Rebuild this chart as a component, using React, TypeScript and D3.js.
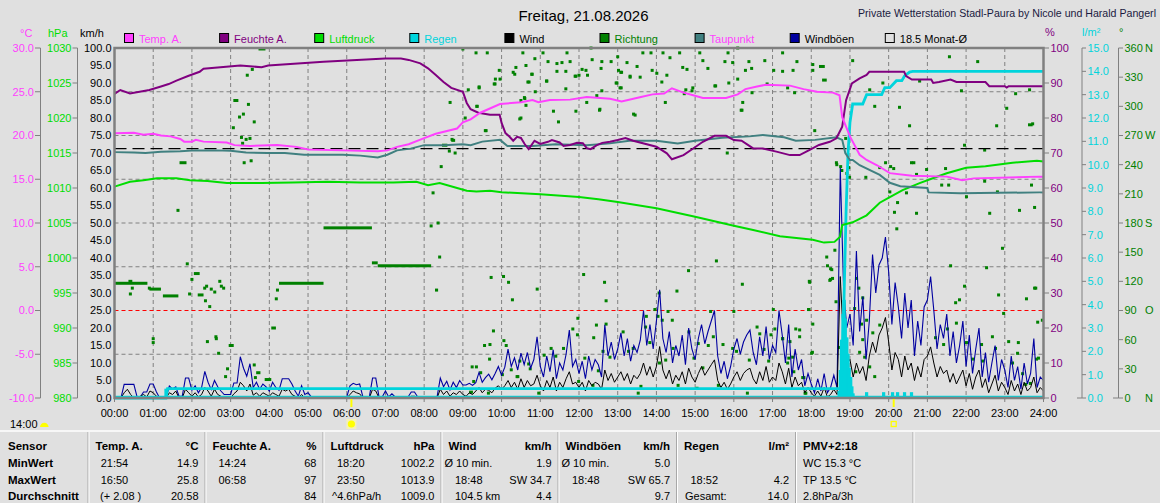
import React from 'react';
import * as d3 from 'd3';

const W = 1160, H = 503;
const PL = 114.5, PR = 1043.5, PT = 48, PB = 398;
const FONT = '"Liberation Sans", Arial, sans-serif';

// ---------- colours ----------
const C_TEMP = '#ff40ff', C_HUM = '#800080', C_PRESS = '#00dd00', C_RAIN = '#00d4dc';
const C_WIND = '#000000', C_DIR = '#008000', C_DEW = '#408080', C_GUST = '#0000a0';

// ---------- data ----------
const tempHours = [0, 0.5, 0.75, 1.0, 1.2, 1.45, 1.7, 1.8, 2.0, 2.1, 2.3, 2.9, 3.1, 3.5, 4.2, 4.7, 5.0, 5.9, 6.8, 7.05, 7.3, 7.6, 8.0, 8.3, 8.85, 9.0, 9.2, 9.45, 9.96, 10.5, 10.8, 10.95, 11.25, 11.77, 12.2, 12.8, 13.1, 13.6, 13.9, 14.2, 14.4, 14.7, 14.95, 15.2, 15.8, 16.1, 16.3, 16.6, 16.83, 17.45, 17.8, 18.15, 18.56, 18.73, 18.8, 19.0, 19.25, 19.43, 19.7, 20.03, 20.6, 21.5, 21.9, 22.2, 23.9, 24];
const tempValues = [20.25, 20.3, 20.1, 20.2, 20.0, 19.9, 19.6, 19.3, 19.3, 19.5, 19.3, 19.2, 18.9, 18.8, 18.9, 18.7, 18.4, 18.3, 18.2, 18.3, 18.7, 19.0, 19.7, 20.2, 20.8, 21.5, 21.85, 22.6, 23.6, 23.8, 24.05, 23.8, 24.05, 24.1, 24.4, 24.2, 23.9, 24.4, 24.7, 24.8, 25.4, 24.9, 24.6, 24.3, 24.3, 24.7, 25.3, 25.6, 25.8, 25.7, 25.3, 25.0, 24.9, 24.6, 22.1, 19.9, 17.8, 17.2, 16.6, 15.7, 15.4, 15.3, 14.9, 15.1, 15.3, 15.3];

const humHours = [0, 0.15, 0.4, 0.9, 1.2, 1.4, 1.6, 1.9, 2.2, 2.3, 3.25, 3.8, 3.97, 5.4, 7.0, 7.4, 7.6, 7.9, 8.1, 8.3, 8.5, 8.7, 9.0, 9.1, 9.2, 9.4, 9.7, 9.95, 10.0, 10.1, 10.2, 10.3, 10.4, 10.5, 10.6, 10.7, 10.85, 11.0, 11.2, 11.3, 11.5, 11.6, 11.77, 11.95, 12.1, 12.2, 12.3, 12.45, 12.6, 12.8, 13.0, 13.2, 13.4, 14.0, 14.27, 14.4, 14.7, 14.95, 15.2, 15.5, 15.8, 16.0, 16.2, 16.5, 16.75, 17.1, 17.45, 17.7, 17.96, 18.2, 18.48, 18.65, 18.8, 18.9, 19.05, 19.25, 19.43, 19.5, 20.4, 20.45, 20.6, 21.1, 21.15, 21.3, 21.6, 21.75, 22.5, 22.6, 23.0, 23.05, 23.1, 24];
const humValues = [86.9, 88, 87, 88, 89, 89.7, 90.7, 92, 93.2, 94.1, 95, 94.5, 95, 96.1, 97, 97, 96.6, 95.6, 94.2, 92.3, 90.3, 88.6, 87.5, 84.3, 82.5, 81.5, 80.9, 80.9, 78.6, 75.7, 74.7, 73.5, 74.6, 74.3, 72.5, 71.1, 73.5, 72.6, 73.2, 73.7, 73.0, 72.0, 72.3, 72.9, 72.8, 71.4, 71.1, 72.2, 72.9, 73.2, 73.7, 74.3, 73.5, 71.8, 69.9, 68.2, 69.4, 71.3, 73.2, 74.9, 74.9, 73.7, 73.5, 71.3, 71.3, 70.4, 69.4, 69.4, 70.9, 72.3, 73.2, 74.2, 77.5, 85.1, 89.9, 91.3, 92.3, 93.2, 93.2, 92, 91, 91, 90, 90.3, 91, 90.3, 90.3, 89.1, 89.1, 88.7, 89.1, 89.1];

const pressHours = [0, 0.4, 0.75, 1.1, 1.6, 1.95, 2.4, 2.9, 3.8, 4.6, 5.5, 6.35, 7.2, 7.8, 8.1, 8.4, 8.85, 9.1, 9.35, 9.7, 10.0, 11.0, 12.0, 12.5, 13.0, 14.0, 15.0, 16.0, 16.5, 17.19, 18.04, 18.33, 18.6, 18.74, 18.8, 19.07, 19.43, 19.77, 20.03, 20.36, 20.8, 21.14, 21.5, 22.0, 22.5, 23.2, 23.83, 24];
const pressValues = [1010.2, 1010.9, 1011.1, 1011.4, 1011.4, 1011.1, 1011.0, 1010.7, 1010.7, 1010.8, 1010.9, 1010.8, 1010.8, 1010.9, 1010.4, 1010.7, 1010.0, 1009.6, 1009.5, 1009.6, 1009.4, 1009.1, 1008.7, 1008.4, 1008.0, 1007.1, 1005.9, 1004.6, 1004.0, 1003.1, 1002.6, 1002.2, 1002.3, 1003.0, 1004.7, 1005.1, 1006.1, 1007.9, 1008.7, 1009.7, 1010.7, 1011.4, 1012.1, 1012.9, 1013.1, 1013.6, 1013.9, 1013.8];

const dewHours = [0, 0.5, 0.8, 1.2, 1.7, 2.1, 2.6, 3.0, 3.4, 3.95, 4.4, 4.9, 5.5, 5.9, 6.35, 6.8, 7.05, 7.3, 7.65, 8.0, 8.5, 9.0, 9.2, 9.5, 9.96, 10.15, 10.8, 11.4, 12.2, 12.8, 13.3, 14.0, 14.55, 15.0, 15.7, 16.4, 16.75, 17.3, 17.6, 18.1, 18.65, 18.8, 18.88, 19.0, 19.07, 19.25, 19.77, 20.03, 20.3, 21.0, 21.03, 21.85, 23.9, 24];
const dewValues = [18.1, 18.05, 18.0, 18.15, 18.2, 18.3, 18.3, 18.25, 18.05, 18.0, 18.0, 17.8, 17.8, 17.8, 17.7, 17.5, 17.8, 18.3, 18.5, 18.9, 18.9, 19.0, 18.9, 19.3, 19.5, 18.8, 18.8, 19.0, 18.9, 19.1, 19.4, 19.4, 19.1, 19.4, 19.75, 19.9, 20.06, 19.8, 19.4, 19.5, 19.8, 19.5, 18.0, 17.2, 17.2, 16.6, 15.5, 14.6, 14.2, 14.0, 13.5, 13.4, 13.5, 13.5];

// 5-minute samples, 00:00 .. 24:00 (one row per hour)
const gustValues = [
  0, 0, 0, 3.9, 3.9, 3.9, 3.9, 0.3, 0.3, 1.7, 1.7, 4,
  4, 1.7, 0, 0, 0, 3.4, 2.6, 3.2, 0.5, 0.5, 5.7, 5.7,
  2.2, 3.5, 1.5, 3, 7.6, 4.5, 2.4, 5, 3.2, 2, 1, 1,
  1, 4.3, 4.3, 11.8, 8.5, 6.2, 9.8, 3, 4.5, 2.5, 4, 3.2,
  2, 4.5, 3, 2.2, 5.5, 5.5, 5.5, 4, 2, 0.5, 3.5, 1,
  1.5, 0.3, 0.3, 0.3, 0.3, 0.3, 0.3, 0.3, 0.3, 0.3, 0.3, 0.3,
  0.3, 3.5, 4.2, 3.8, 4, 0.3, 0.3, 0.3, 5.7, 5.7, 0.3, 0.3,
  2, 0.3, 1.2, 0.3, 0.3, 0.3, 0.3, 0.3, 1.7, 1.7, 0.3, 0.3,
  0.3, 0.3, 0.3, 0.3, 0.3, 5.7, 3.2, 4.8, 2.3, 4.5, 3, 5,
  3.7, 3.7, 4.2, 3.6, 4.4, 7.3, 4.5, 5.8, 6.8, 5.2, 7, 9,
  6.5, 8.8, 14, 9, 11.5, 8, 12.8, 9.5, 13, 8.5, 11, 17.5,
  9, 6, 12, 7.5, 13.8, 5.5, 10, 8, 12.5, 19.4, 9, 11,
  7, 10.5, 5.5, 12, 8, 11, 9.5, 6, 20.9, 12, 16, 11,
  14, 18.6, 12, 17, 10.5, 15, 13, 16.5, 25, 15, 21, 14,
  22, 30.9, 17, 13, 19, 10, 15, 12, 18, 9.5, 20, 14,
  11, 17, 21, 15.5, 19, 22, 25, 12, 7, 10.5, 5.5, 9,
  14, 17, 12.5, 16, 18, 19.4, 13, 9.5, 17.5, 12, 20.4, 11,
  15, 13, 25, 18, 10, 21, 6, 14, 8, 11, 3.5, 7,
  4, 1.5, 5.5, 2, 7, 1.5, 3, 6.5, 3, 65.7, 32, 20,
  24, 15, 42, 19, 29, 11, 22, 41, 30, 38, 40, 46,
  36, 21, 33, 26, 17, 30, 20, 28, 12, 22, 15, 26,
  28, 34.7, 25, 14, 21, 17, 24, 12, 19, 10, 15, 22,
  9, 18, 7, 14, 20, 6, 13, 4.5, 10, 15, 5, 11,
  8, 3, 12, 5, 9, 2.5, 10, 4, 7, 17, 3, 6,
  5,
];
const windValues = [
  0, 0, 0, 1.5, 2.5, 1, 0, 0, 0.5, 1, 0.3, 2,
  1.5, 0.5, 0, 0, 0, 1.5, 1, 2, 0, 0, 2.5, 1.5,
  0.5, 1.5, 0.3, 1, 3, 2, 0.5, 2.5, 1, 0.5, 0, 0.3,
  0, 1.2, 2, 4.5, 3.5, 2, 4, 0.8, 1.5, 0.5, 1.5, 1,
  0.5, 1.5, 1, 0.5, 2.5, 2, 2.5, 1, 0.5, 0, 1, 0,
  0, 0, 0, 0, 0, 0, 0, 0, 0, 0, 0, 0,
  0, 1, 2, 1.5, 1.2, 0, 0, 0, 2.5, 2, 0, 0,
  0.5, 0, 0.3, 0, 0, 0, 0, 0, 0.5, 0.5, 0, 0,
  0, 0, 0, 0, 0, 2.5, 1, 2, 0.5, 1.5, 1, 2,
  1, 0.5, 1.5, 1, 2, 3, 1.5, 2.5, 2.2, 1.5, 2.8, 3.5,
  2.5, 3.5, 5, 3, 4.5, 2.5, 5.5, 3, 5, 3.5, 4, 6.5,
  3.5, 2, 5, 3, 6, 2, 4.5, 3, 5.5, 7.5, 4, 4.5,
  3, 4.5, 2, 5, 3.5, 4.5, 4, 2.5, 8, 5, 7, 4.5,
  6, 7.5, 5, 7, 4, 6.5, 5.5, 7, 10, 6.5, 9, 6,
  9, 14.7, 8, 5.5, 8, 4, 6.5, 5, 7.5, 4, 8.5, 6,
  4.5, 7, 9, 6.5, 8, 9.5, 10.9, 5, 3, 4.5, 2.5, 4,
  6, 7.5, 5, 7, 8, 8.5, 5.5, 4, 7.5, 5, 9, 4.5,
  6, 5, 10, 7.5, 4, 8.5, 3, 6, 3.5, 4.5, 1.5, 3,
  1.5, 0.5, 2, 0.5, 3, 0.3, 1, 2.5, 1, 34.7, 16, 10,
  11, 6, 10, 7, 9, 5, 12, 16, 13, 18, 20, 23,
  16, 8, 13, 11, 6, 12, 8, 10, 5, 9, 6, 11,
  12, 14.6, 10, 6, 9, 7, 8, 4.5, 7, 4, 6, 8,
  3.5, 7, 2.5, 6, 8, 3, 5.5, 1.5, 4, 6.5, 2, 4.5,
  3, 1, 5, 2, 4, 1, 4.5, 2, 3, 6, 1.5, 3,
  2,
];

const rainSumHours = [0, 1.33, 1.37, 18.75, 18.8, 18.85, 18.9, 18.95, 19.0, 19.07, 19.33, 19.43, 19.82, 19.9, 20.03, 20.2, 20.34, 20.41, 20.54, 20.62, 24];
const rainSumValues = [0, 0, 0.4, 0.4, 1.5, 4.5, 8, 10.5, 11.8, 12.6, 12.6, 13.0, 13.0, 13.3, 13.3, 13.6, 13.6, 13.8, 13.97, 14.0, 14.0];

const rainRateHours = [1.33, 18.72, 18.75, 18.78, 18.82, 18.85, 18.88, 18.92, 18.95, 18.98, 19.02, 19.05, 19.08, 19.43, 19.87, 20.1, 20.23, 20.41, 20.59];
const rainRateValues = [0.4, 0.3, 1.2, 2.5, 3.6, 4.2, 3.4, 2.6, 1.9, 1.3, 0.9, 0.5, 0.2, 0.25, 0.25, 0.25, 0.25, 0.25, 0.25];

// wind direction: single readings [hour, degrees]
const dirPoints: [number, number][] = [
  [1.64, 193], [1.88, 138], [2.0, 122], [1.94, 107], [2.33, 113], [2.38, 115], [2.5, 112], [2.59, 109], [2.72, 120], [2.76, 115], [2.82, 113], [2.35, 100], [2.46, 94],
  [1.0, 61], [1.0, 57], [0.41, 107], [0.46, 113], [0.9, 113], [2.4, 58], [2.62, 63], [2.63, 61], [2.69, 46], [2.92, 30], [2.87, 22], [3.61, 34], [3.64, 21],
  [4.18, 102], [4.21, 111], [8.18, 177], [8.36, 180], [8.4, 145],
  [3.56, 338], [3.43, 332], [3.46, 302], [3.33, 292], [3.23, 289], [3.61, 284], [3.07, 278],
  [3.28, 268], [3.4, 266], [3.5, 267], [3.31, 262], [3.35, 242], [3.53, 244], [8.72, 266], [8.65, 254], [8.8, 252], [8.44, 238], [8.23, 211], [9.6, 275],
  [9.73, 124], [10.05, 125], [10.18, 119], [10.28, 101], [9.79, 69], [9.56, 54], [9.7, 55], [9.69, 40], [10.06, 59], [10.12, 54], [9.24, 32], [9.35, 32],
  [9.28, 17], [9.46, 26], [9.66, 5], [10.02, 24], [10.25, 29], [10.42, 22], [10.92, 112], [10.47, 38], [10.74, 30], [10.7, 35], [10.96, 5], [10.4, 22],
  [11.1, 44], [11.28, 51], [11.4, 43], [11.6, 51], [11.84, 71], [11.97, 82], [12.12, 127], [12.66, 119], [12.7, 100], [11.96, 65], [11.99, 17], [12.38, 62],
  [12.45, 75], [12.7, 76], [12.62, 48], [12.8, 42], [12.15, 41], [12.5, 28], [12.36, 13], [13.14, 68], [13.28, 48], [13.4, 51], [13.6, 12], [13.53, 5],
  [13.74, 84], [13.72, 73], [13.83, 57], [13.96, 91], [14.04, 84], [14.07, 108], [14.15, 80], [14.3, 89], [14.41, 80], [14.53, 110], [14.43, 51], [14.08, 36],
  [14.24, 39], [14.56, 13], [14.83, 131], [14.84, 68], [14.97, 41], [15.05, 10], [15.08, 56], [15.2, 31], [15.34, 54], [15.4, 89], [15.47, 63], [15.55, 141],
  [15.6, 13], [15.72, 55], [15.97, 51], [16.0, 89], [16.07, 48], [16.22, 117], [16.4, 39], [16.35, 5], [16.6, 73], [16.67, 66], [16.78, 50], [16.9, 38],
  [16.96, 65], [17.02, 91], [17.06, 71], [17.26, 61], [17.45, 58], [17.52, 42], [17.7, 70], [17.78, 21], [17.84, 5], [17.95, 120], [18.03, 47], [17.93, 91],
  [18.42, 136], [18.5, 122], [18.53, 132], [18.64, 99], [18.72, 52],
  [9.0, 359], [9.34, 355], [9.63, 355], [9.94, 337], [9.96, 328], [9.83, 323], [9.42, 319], [9.14, 317], [8.67, 304], [9.06, 288], [9.37, 300], [10.55, 355],
  [10.86, 349], [10.37, 340], [10.3, 335], [10.63, 342], [10.79, 333], [10.71, 325], [10.6, 308], [10.5, 288], [11.07, 355], [11.2, 346], [11.43, 344], [11.56, 345],
  [11.77, 346], [11.69, 355], [11.43, 336], [11.66, 336], [11.92, 331], [12.08, 338], [11.17, 326], [12.34, 348], [12.59, 346], [12.31, 360], [12.57, 339], [12.83, 346],
  [13.0, 351], [13.24, 345], [13.5, 341], [13.08, 335], [13.32, 330], [12.98, 324], [13.06, 319], [12.59, 316], [12.46, 311], [12.54, 297], [13.45, 291], [13.65, 355],
  [13.86, 355], [14.17, 355], [14.35, 350], [14.6, 355], [14.68, 340], [14.79, 338], [14.27, 332], [14.01, 334], [14.14, 325], [14.76, 317], [14.94, 319], [15.12, 355],
  [15.2, 347], [15.33, 339], [15.51, 321], [15.85, 355], [15.77, 346], [15.97, 345], [16.1, 360], [16.39, 346], [16.46, 339], [16.1, 328], [16.23, 304], [16.21, 296],
  [16.8, 347], [17.26, 355], [17.26, 336], [17.39, 319], [17.63, 346], [17.57, 314],
  [9.42, 320], [9.81, 323], [9.84, 328], [10.34, 333], [10.78, 333], [10.68, 325], [11.16, 326], [10.5, 306], [10.59, 309], [10.63, 301], [10.87, 315], [11.66, 318],
  [11.9, 331], [12.0, 332], [12.18, 337], [12.22, 332], [12.2, 304], [11.92, 295], [12.53, 296], [11.34, 295], [11.47, 284], [10.47, 287], [9.58, 275], [9.36, 300],
  [12.96, 324], [13.09, 319], [13.02, 337], [13.1, 335], [13.32, 331], [13.58, 330], [13.89, 337], [13.41, 292], [14.23, 304], [14.72, 313], [14.92, 316], [15.53, 321],
  [15.87, 324], [16.19, 296], [16.3, 337], [16.47, 314], [16.86, 323], [17.03, 337], [17.53, 337], [18.04, 337], [18.09, 275], [15.83, 252], [18.65, 242], [18.76, 238], [18.89, 267],
  [18.66, 240], [18.79, 234], [18.92, 231], [18.99, 227], [18.97, 237], [19.41, 227], [19.77, 237], [19.92, 242], [20.05, 238], [20.13, 236], [20.59, 242], [20.65, 242],
  [20.72, 230], [20.98, 235], [21.47, 236], [21.37, 219], [21.55, 219], [22.01, 207], [22.48, 223], [22.61, 190], [22.81, 212], [23.38, 193], [23.69, 219], [23.77, 196],
  [20.23, 201], [20.15, 191], [20.72, 190], [20.21, 174], [20.46, 211], [20.03, 212], [18.61, 152], [18.4, 145], [18.5, 133], [18.55, 123], [18.48, 121], [17.96, 119],
  [21.6, 136], [22.53, 134], [22.94, 154], [22.84, 106], [21.96, 115], [21.73, 98], [21.83, 101], [23.56, 102], [23.77, 113], [19.17, 123], [19.23, 113], [19.33, 103],
  [19.12, 92], [19.43, 80], [19.3, 76], [17.94, 91], [18.04, 76], [17.6, 71], [17.7, 63], [17.26, 61], [17.42, 41], [17.55, 27], [17.39, 36], [17.86, 5],
  [18.01, 46], [17.81, 21], [19.51, 32], [19.25, 47], [19.33, 60], [19.59, 67], [19.77, 75], [21.21, 62], [21.42, 55], [21.52, 71], [21.75, 77], [22.17, 40],
  [22.01, 57], [22.4, 55], [22.43, 38], [22.68, 63], [22.76, 51], [23.1, 58], [23.35, 57], [23.2, 36], [23.33, 46], [23.46, 25], [23.66, 15], [23.87, 41],
  [23.54, 14], [22.97, 87], [19.15, 27], [19.64, 22], [19.38, 42],
  [18.04, 343], [19.07, 347], [19.51, 317], [19.64, 300], [19.85, 324], [20.28, 299], [20.54, 280], [20.8, 326], [21.57, 351], [21.88, 316], [22.3, 346], [22.79, 280],
  [23.05, 298], [23.28, 313], [23.64, 317], [23.72, 282], [23.8, 113], [23.85, 78], [23.97, 80], [23.82, 40], [21.96, 260], [22.48, 255],
];
// wind direction: constant runs [fromHour, toHour, degrees]
const dirRuns: [number, number, number][] = [
  [0.0, 0.85, 118], [0.36, 0.46, 120], [0.9, 1.2, 112], [1.25, 1.65, 105], [2.15, 2.3, 106], [2.05, 2.2, 128], [4.25, 5.4, 118], [5.4, 6.65, 175],
  [6.65, 6.8, 139], [6.8, 8.18, 136], [4.05, 4.17, 72], [2.95, 3.08, 54], [3.66, 3.77, 26], [3.88, 4.05, 19], [8.28, 8.36, 111], [9.16, 9.26, 6],
  [1.68, 1.86, 242], [3.07, 3.2, 306], [3.72, 3.9, 359], [8.7, 8.8, 265], [8.46, 8.6, 260], [18.2, 18.35, 341], [18.28, 18.4, 327], [23.6, 23.72, 281],
];

const monthAvgTemp = 18.5;
const sunriseHour = 6.12;
const sunsetHour = 20.13;

// ---------- axes ----------
const tempTicks = [30, 25, 20, 15, 10, 5, 0, -5, -10];
const pressTicks = [1030, 1025, 1020, 1015, 1010, 1005, 1000, 995, 990, 985, 980];
const kmhTicks = [100, 95, 90, 85, 80, 75, 70, 65, 60, 55, 50, 45, 40, 35, 30, 25, 20, 15, 10, 5, 0];
const humTicks = [100, 90, 80, 70, 60, 50, 40, 30, 20, 10, 0];
const rainTicks = [15, 14, 13, 12, 11, 10, 9, 8, 7, 6, 5, 4, 3, 2, 1, 0];
const dirTicks = [360, 330, 300, 270, 240, 210, 180, 150, 120, 90, 60, 30, 0];
const dirTickLetters = ['N', '', '', 'W', '', '', 'S', '', '', 'O', '', '', 'N'];
const hourTicks = d3.range(0, 25);
const hourLabels = hourTicks.map((h) => `${String(h).padStart(2, '0')}:00`);

// ---------- legend ----------
const legendLabels = ['Temp. A.', 'Feuchte A.', 'Luftdruck', 'Regen', 'Wind', 'Richtung', 'Taupunkt', 'Windböen', '18.5 Monat-Ø'];
const legendBoxColors = [C_TEMP, C_HUM, C_PRESS, C_RAIN, C_WIND, C_DIR, C_DEW, C_GUST, 'none'];
const legendTextColors = [C_TEMP, C_HUM, C_PRESS, C_RAIN, '#000', C_DIR, C_TEMP, '#000', '#000'];

// ---------- table ----------
const rowLabels = ['Sensor', 'MinWert', 'MaxWert', 'Durchschnitt'];
const colHeads = ['Temp. A.', 'Feuchte A.', 'Luftdruck', 'Wind', 'Windböen', 'Regen'];
const colUnits = ['°C', '%', 'hPa', 'km/h', 'km/h', 'l/m²'];
const colMinLeft = ['21:54', '14:24', '18:20', 'Ø 10 min.', 'Ø 10 min.', ''];
const colMinRight = ['14.9', '68', '1002.2', '1.9', '5.0', ''];
const colMaxLeft = ['16:50', '06:58', '23:50', '18:48', '18:48', '18:52'];
const colMaxRight = ['25.8', '97', '1013.9', 'SW 34.7', 'SW 65.7', '4.2'];
const colAvgLeft = ['(+ 2.08 )', '', '^4.6hPa/h', '104.5 km', '', 'Gesamt:'];
const colAvgRight = ['20.58', '84', '1009.0', '4.4', '9.7', '14.0'];
const pmvLines = ['PMV+2:18', 'WC 15.3 °C', 'TP 13.5 °C', '2.8hPa/3h'];

export default function App() {
  const x = d3.scaleLinear().domain([0, 24]).range([PL, PR]);
  const yT = d3.scaleLinear().domain([-10, 30]).range([PB, PT]);
  const yP = d3.scaleLinear().domain([980, 1030]).range([PB, PT]);
  const yK = d3.scaleLinear().domain([0, 100]).range([PB, PT]);
  const yH = d3.scaleLinear().domain([0, 100]).range([PB, PT]);
  const yR = d3.scaleLinear().domain([0, 15]).range([PB, PT]);
  const yD = d3.scaleLinear().domain([0, 360]).range([PB, PT]);

  const mk = (hs: number[], vs: number[], ys: d3.ScaleLinear<number, number>) =>
    d3.line<number>().x((_, i) => x(hs[i])).y((v) => ys(v))(vs) || '';
  const sampleHours = gustValues.map((_, i) => i / 12);

  const tempPath = mk(tempHours, tempValues, yT);
  const humPath = mk(humHours, humValues, yH);
  const pressPath = mk(pressHours, pressValues, yP);
  const dewPath = mk(dewHours, dewValues, yT);
  const gustPath = mk(sampleHours, gustValues, yK);
  const windPath = mk(sampleHours, windValues, yK);
  const rainPath = mk(rainSumHours, rainSumValues, yR);
  const barW = x(1 / 12) - x(0);

  const dividers = [88, 205, 323, 441, 558, 676.5, 795.5, 913];
  const rowY = [450, 467, 483.5, 500];
  const minIndent = [12.7, 13.5, 14, 3.5, 3.5, 14];
  const maxIndent = [12.7, 13.5, 14, 14, 14, 14];
  const avgIndent = [12, 13.5, 9, 14, 14, 8.5];

  const txt = { fontFamily: FONT, fontSize: 11 } as const;

  return (
    <div style={{ position: 'absolute', left: 0, top: 0 }}>
      <svg width={W} height={H} style={{ display: 'block' }}>
        <rect x={0} y={0} width={W} height={H} fill="#e0e0e0" />

        {/* titles */}
        <text x={583.5} y={20.5} textAnchor="middle" fontFamily={FONT} fontSize={15} fill="#000">Freitag, 21.08.2026</text>
        <text x={1156} y={16.5} textAnchor="end" fontFamily={FONT} fontSize={10.2} fill="#1a1a40" textLength={298} lengthAdjust="spacingAndGlyphs">Private Wetterstation Stadl-Paura by Nicole und Harald Pangerl</text>

        {/* unit headers */}
        <text x={20} y={36.5} {...txt} fill={C_TEMP}>°C</text>
        <text x={48} y={36.5} {...txt} fill={C_PRESS}>hPa</text>
        <text x={80} y={36.5} {...txt} fill="#000">km/h</text>
        <text x={1045} y={35.5} {...txt} fill={C_HUM}>%</text>
        <text x={1082} y={35.5} {...txt} fill={C_RAIN}>l/m²</text>
        <text x={1119} y={35.5} {...txt} fill={C_DIR}>°</text>

        {/* legend */}
        {legendLabels.map((l, i) => {
          const bx = 124 + i * 95.1;
          return (
            <g key={l}>
              <rect x={bx + 0.5} y={33.5} width={9} height={9} fill={legendBoxColors[i]} stroke="#000" strokeWidth={1} />
              <text x={bx + 15} y={42.5} {...txt} fill={legendTextColors[i]}>{l}</text>
            </g>
          );
        })}

        {/* grid */}
        {hourTicks.slice(1, 24).map((h) => (
          <line key={'vg' + h} x1={x(h)} x2={x(h)} y1={PT} y2={PB} stroke="#808080" strokeDasharray="4,3" strokeWidth={1} />
        ))}
        {tempTicks.filter((t) => t !== 30 && t !== -10 && t !== 0).map((t) => (
          <line key={'hg' + t} x1={PL} x2={PR} y1={yT(t)} y2={yT(t)} stroke="#808080" strokeDasharray="4,3" strokeWidth={1} />
        ))}
        <line x1={PL} x2={PR} y1={yT(0)} y2={yT(0)} stroke="#ff0000" strokeDasharray="4,3" strokeWidth={1} />

        {/* wind direction */}
        {dirRuns.map(([a, b, d], i) => (
          <rect key={'dr' + i} x={x(a)} y={yD(d) - 1.5} width={Math.max(3, x(b) - x(a))} height={3} fill={C_DIR} />
        ))}
        {dirPoints.map(([h, d], i) => (
          <rect key={'dp' + i} x={x(h) - 1.5} y={yD(d) - 1.5} width={3} height={3} fill={C_DIR} />
        ))}

        {/* wind & gusts */}
        <path d={gustPath} fill="none" stroke={C_GUST} strokeWidth={1.1} />
        <path d={windPath} fill="none" stroke={C_WIND} strokeWidth={1} />

        {/* rain */}
        {rainRateHours.map((h, i) => (
          <rect key={'rb' + i} x={x(h) - barW / 2} y={yR(rainRateValues[i])} width={barW} height={yR(0) - yR(rainRateValues[i])} fill={C_RAIN} />
        ))}
        <line x1={PL} x2={PR} y1={yR(0) - 1.5} y2={yR(0) - 1.5} stroke={C_RAIN} strokeWidth={1.5} />
        <path d={rainPath} fill="none" stroke={C_RAIN} strokeWidth={2.8} />

        {/* monthly mean */}
        <line x1={PL} x2={PR} y1={yT(monthAvgTemp)} y2={yT(monthAvgTemp)} stroke="#000" strokeWidth={1.3} strokeDasharray="12,6" />

        {/* main lines */}
        <path d={pressPath} fill="none" stroke={C_PRESS} strokeWidth={2} />
        <path d={dewPath} fill="none" stroke={C_DEW} strokeWidth={2} />
        <path d={humPath} fill="none" stroke={C_HUM} strokeWidth={2} />
        <path d={tempPath} fill="none" stroke={C_TEMP} strokeWidth={2} />

        {/* frame */}
        <rect x={PL} y={PT} width={PR - PL} height={PB - PT} fill="none" stroke="#808080" strokeWidth={2.5} />

        {/* left axes */}
        <line x1={40.5} x2={40.5} y1={PT} y2={PB} stroke="#808080" />
        {tempTicks.map((t) => (
          <g key={'tt' + t}>
            <line x1={35} x2={40.5} y1={yT(t)} y2={yT(t)} stroke="#808080" />
            <text x={34} y={yT(t)} dy="0.36em" textAnchor="end" {...txt} fill={C_TEMP}>{t.toFixed(1)}</text>
          </g>
        ))}
        <line x1={77.5} x2={77.5} y1={PT} y2={PB} stroke="#808080" />
        {pressTicks.map((p) => (
          <g key={'pt' + p}>
            <line x1={72.5} x2={77.5} y1={yP(p)} y2={yP(p)} stroke="#808080" />
            <text x={71.5} y={yP(p)} dy="0.36em" textAnchor="end" {...txt} fill={C_PRESS}>{p}</text>
          </g>
        ))}
        {kmhTicks.map((k) => (
          <text key={'kt' + k} x={111.5} y={yK(k)} dy="0.36em" textAnchor="end" {...txt} fill="#000">{k.toFixed(1)}</text>
        ))}

        {/* right axes */}
        {humTicks.map((h) => (
          <g key={'ht' + h}>
            <line x1={PR} x2={PR + 5.5} y1={yH(h)} y2={yH(h)} stroke="#808080" />
            <text x={1050.5} y={yH(h)} dy="0.36em" {...txt} fill={C_HUM}>{h}</text>
          </g>
        ))}
        <line x1={1082} x2={1082} y1={PT} y2={PB} stroke="#808080" />
        {rainTicks.map((r) => (
          <g key={'rt' + r}>
            <line x1={1082} x2={1086} y1={yR(r)} y2={yR(r)} stroke="#808080" />
            <text x={1087.5} y={yR(r)} dy="0.36em" {...txt} fill={C_RAIN}>{r.toFixed(1)}</text>
          </g>
        ))}
        <line x1={1077} x2={1082} y1={PB} y2={PB} stroke="#808080" />
        <line x1={1118.5} x2={1118.5} y1={PT} y2={PB} stroke="#808080" />
        {dirTicks.map((d, i) => (
          <g key={'dt' + d}>
            <line x1={1118.5} x2={1123} y1={yD(d)} y2={yD(d)} stroke="#808080" />
            <text x={1124.5} y={yD(d)} dy="0.36em" {...txt} fill={C_DIR}>{d}</text>
            {dirTickLetters[i] && (
              <text x={1145} y={yD(d)} dy="0.36em" {...txt} fill={C_DIR}>{dirTickLetters[i]}</text>
            )}
          </g>
        ))}
        <line x1={1113} x2={1118.5} y1={PB} y2={PB} stroke="#808080" />

        {/* x axis */}
        {hourTicks.map((h, i) => (
          <g key={'xt' + h}>
            <line x1={x(h)} x2={x(h)} y1={PB} y2={PB + 4} stroke="#808080" />
            <text x={x(h)} y={417} textAnchor="middle" {...txt} fill="#000">{hourLabels[i]}</text>
          </g>
        ))}

        {/* sunrise / sunset */}
        <line x1={x(sunriseHour)} x2={x(sunriseHour)} y1={PB + 1} y2={PB + 9} stroke="#ffff00" strokeWidth={2} />
        <line x1={x(sunsetHour)} x2={x(sunsetHour)} y1={PB + 1} y2={PB + 9} stroke="#ffff00" strokeWidth={2} />
        <rect x={x(sunriseHour) - 5} y={419} width={10} height={10} fill="#f4f0b8" />
        <circle cx={x(sunriseHour)} cy={424} r={3.6} fill="#ffff00" />
        <rect x={x(sunsetHour) - 2.5} y={421.5} width={5} height={5} fill="none" stroke="#ffff00" strokeWidth={1.3} />
        <text x={10} y={428} {...txt} fill="#000">14:00</text>
        <path d="M 40 427 A 4.3 4.3 0 0 1 48.6 427 Z" fill="#ffff00" />

        {/* table */}
        <line x1={0} x2={W} y1={431} y2={431} stroke="#ffffff" strokeWidth={1.5} />
        {dividers.map((d) => (
          <g key={'dv' + d}>
            <line x1={d} x2={d} y1={432} y2={H} stroke="#a8a8a8" strokeWidth={1} />
            <line x1={d + 1} x2={d + 1} y1={432} y2={H} stroke="#ffffff" strokeWidth={1} />
          </g>
        ))}
        {rowLabels.map((r, i) => (
          <text key={'rl' + r} x={8} y={rowY[i]} fontFamily={FONT} fontSize={11.5} fontWeight="bold" fill="#000">{r}</text>
        ))}
        {colHeads.map((h, c) => {
          const l = dividers[c];
          const r = dividers[c + 1] - 6.5;
          return (
            <g key={'col' + c}>
              <text x={l + 7.5} y={rowY[0]} fontFamily={FONT} fontSize={11.5} fontWeight="bold" fill="#000">{h}</text>
              <text x={r} y={rowY[0]} textAnchor="end" fontFamily={FONT} fontSize={11.5} fontWeight="bold" fill="#000">{colUnits[c]}</text>
              <text x={l + minIndent[c]} y={rowY[1]} {...txt} fill="#000">{colMinLeft[c]}</text>
              <text x={r} y={rowY[1]} textAnchor="end" {...txt} fill="#000">{colMinRight[c]}</text>
              <text x={l + maxIndent[c]} y={rowY[2]} {...txt} fill="#000">{colMaxLeft[c]}</text>
              <text x={r} y={rowY[2]} textAnchor="end" {...txt} fill="#000">{colMaxRight[c]}</text>
              <text x={l + avgIndent[c]} y={rowY[3]} {...txt} fill="#000">{colAvgLeft[c]}</text>
              <text x={r} y={rowY[3]} textAnchor="end" {...txt} fill="#000">{colAvgRight[c]}</text>
            </g>
          );
        })}
        {pmvLines.map((p, i) => (
          <text key={'pmv' + i} x={dividers[6] + 7.5} y={rowY[i]} fontFamily={FONT} fontSize={i === 0 ? 11.5 : 11} fontWeight={i === 0 ? 'bold' : 'normal'} fill="#000">{p}</text>
        ))}
      </svg>
    </div>
  );
}
